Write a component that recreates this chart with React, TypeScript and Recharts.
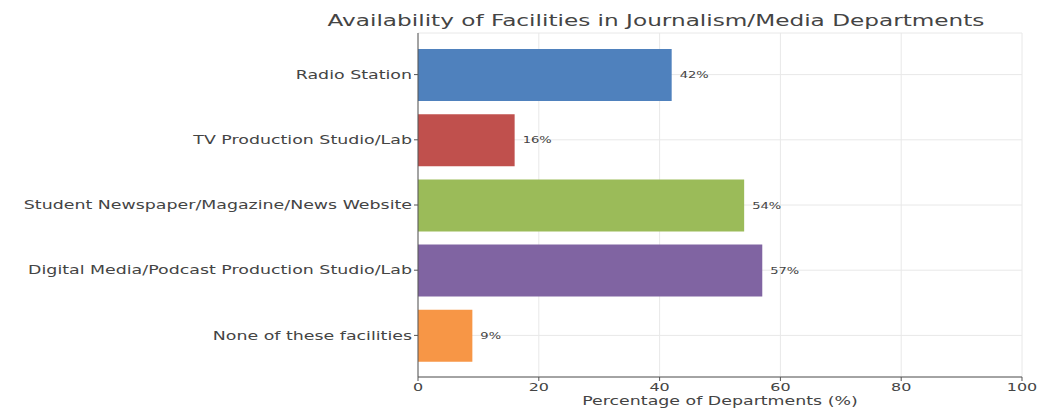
import React from "react";
import {
  BarChart,
  Bar,
  XAxis,
  YAxis,
  CartesianGrid,
  LabelList,
  Cell,
} from "recharts";

const facilities = [
  "Radio Station",
  "TV Production Studio/Lab",
  "Student Newspaper/Magazine/News Website",
  "Digital Media/Podcast Production Studio/Lab",
  "None of these facilities",
];
const percentages = [42, 16, 54, 57, 9];
const barColors = ["#4F81BD", "#C0504D", "#9BBB59", "#8064A2", "#F79646"];
const xTicks = [0, 20, 40, 60, 80, 100];

const data = facilities.map((name, i) => ({ name, value: percentages[i] }));

const FONT = "'DejaVu Sans', sans-serif";
const TEXT = "#444";
// the source image is stretched sideways, so text is too
const STRETCH = 1.45;

function Wide(props: any) {
  const { x, y, anchor, size, dy, children } = props;
  return (
    <g transform={`translate(${x},${y}) scale(${STRETCH},1)`}>
      <text
        x={0}
        y={0}
        dy={dy || 0}
        textAnchor={anchor}
        fontSize={size}
        fill={TEXT}
        fontFamily={FONT}
      >
        {children}
      </text>
    </g>
  );
}

const YTick = (props: any) => (
  <Wide x={props.x} y={props.y} anchor="end" size={12} dy="0.35em">
    {props.payload.value}
  </Wide>
);

const XTick = (props: any) => (
  <Wide x={props.x} y={props.y} anchor="middle" size={11} dy="0.75em">
    {props.payload.value}
  </Wide>
);

const ValueLabel = (props: any) => (
  <Wide
    x={props.x + props.width + 8}
    y={props.y + props.height / 2}
    anchor="start"
    size={9}
    dy="0.35em"
  >
    {`${props.value}%`}
  </Wide>
);

const XLabel = (props: any) => {
  const vb = props.viewBox;
  return (
    <Wide x={vb.x + vb.width / 2} y={vb.y + vb.height - 5} anchor="middle" size={12}>
      Percentage of Departments (%)
    </Wide>
  );
};

export default function App() {
  return (
    <div style={{ position: "fixed", left: 0, top: 0, background: "#fff" }}>
      <BarChart
        width={1056}
        height={410}
        data={data}
        layout="vertical"
        margin={{ top: 33, right: 34, bottom: 0, left: 0 }}
        style={{ fontFamily: FONT }}
      >
        <Wide x={656} y={26} anchor="middle" size={16}>
          Availability of Facilities in Journalism/Media Departments
        </Wide>
        <CartesianGrid stroke="#e8e8e8" horizontal={true} vertical={true} />
        <XAxis
          type="number"
          domain={[0, 100]}
          ticks={xTicks}
          tickSize={4}
          stroke="#555"
          tick={<XTick />}
          height={33}
          label={<XLabel />}
        />
        <YAxis
          type="category"
          dataKey="name"
          width={418}
          tickSize={4}
          stroke="#555"
          padding={{ top: 9, bottom: 9 }}
          tick={<YTick />}
        />
        <Bar dataKey="value" barSize={52} isAnimationActive={false}>
          {data.map((d, i) => (
            <Cell key={d.name} fill={barColors[i]} />
          ))}
          <LabelList dataKey="value" content={<ValueLabel />} />
        </Bar>
      </BarChart>
    </div>
  );
}
